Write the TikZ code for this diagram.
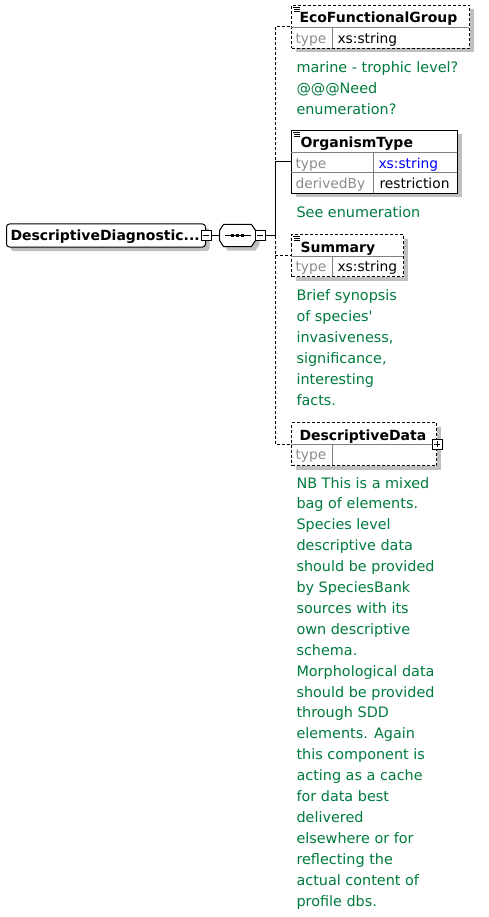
\documentclass[tikz,border=0pt]{standalone}
\usepackage{fontspec}
\setmainfont{DejaVu Sans}
\usetikzlibrary{shadows}
\definecolor{notegreen}{RGB}{0,122,61}
\newcommand\docmark[1]{\draw[line width=0.8pt, shift={(#1.north west)}] (2,2) -- (9,2) (3,4) -- (9,4) (3,6) -- (9,6);}
\begin{document}
\begin{tikzpicture}[x=1pt, y=-1pt, line width=1pt,
    shade/.style={drop shadow={shadow xshift=4pt, shadow yshift=-4pt, fill=black!25, opacity=1}},
    box/.style={draw, fill=white, shade, inner sep=0pt, anchor=north west},
    opt/.style={dash pattern=on 3pt off 2pt},
    grid/.style={draw=black!50},
    title/.style={anchor=base west, inner sep=0pt, font=\fontsize{14}{16}\selectfont\bfseries},
    key/.style={anchor=base west, inner sep=0pt, text=black!45, font=\fontsize{13.8}{16}\selectfont},
    val/.style={anchor=base west, inner sep=0pt, font=\fontsize{13.8}{16}\selectfont},
    note/.style={anchor=north west, inner sep=0pt, align=left, text=notegreen, font=\fontsize{14.4}{20.9}\selectfont},
    minus/.style={draw, fill=white, minimum size=10pt, inner sep=0pt,
      path picture={\draw ([xshift=2pt]path picture bounding box.west) -- ([xshift=-2pt]path picture bounding box.east);}},
    plus/.style={draw, fill=white, minimum size=10pt, inner sep=0pt,
      path picture={\draw ([xshift=2pt]path picture bounding box.west) -- ([xshift=-2pt]path picture bounding box.east)
        ([yshift=-2pt]path picture bounding box.north) -- ([yshift=2pt]path picture bounding box.south);}},
  ]
  \useasboundingbox (0,0) rectangle (488,917);

  \node[box, rounded corners=3pt, anchor=west, minimum width=199pt, minimum height=23pt] (root) at (6,235.5) {};
  \node[title] (roott) at (10,240.5) {DescriptiveDiagnostic...};
  \node[minus] (rootpm) at (root.east) {};

  \node[minimum width=35pt, minimum height=21pt, inner sep=0pt] (seq) at (237.5,235.5) {};
  \draw[fill=white, shade] ([xshift=4pt]seq.north west) -- ([xshift=-4pt]seq.north east) -- ([yshift=-6pt]seq.north east)
    -- ([yshift=6pt]seq.south east) -- ([xshift=-4pt]seq.south east) -- ([xshift=4pt]seq.south west)
    -- ([yshift=6pt]seq.south west) -- ([yshift=-6pt]seq.north west) -- cycle;
  \draw ([xshift=5pt]seq.west) -- ([xshift=-5pt]seq.east);
  \foreach \d in {-5,0,5}
    \fill ([xshift=\d pt]seq.center) +(-1.5,-1.5) rectangle +(1.5,1.5);
  \node[minus, anchor=west] (seqpm) at ([xshift=-1pt]seq.east) {};
  \coordinate (spine) at (275,235.5);

  \draw (rootpm.east) -- (seq.west);
  \draw (seqpm.east) -- (spine);

  \node[box, opt, minimum width=178pt, minimum height=43pt] (eco) at (291,5) {};
  \draw[grid] (291,28) -- (469,28) (332,28) -- (332,48);
  \node[title] (ecot) at (299,23) {EcoFunctionalGroup};
  \node[key] (ecok) at (295,43.5) {type};
  \node[val] (ecov) at (337,43.5) {xs:string};
  \docmark{eco}
  \node[note] (econ) at (296,61.1) {marine - trophic level?\\@@@Need\\enumeration?};

  \node[box, minimum width=166pt, minimum height=63pt] (org) at (291,130) {};
  \draw[grid] (291,153) -- (457,153) (291,173) -- (457,173) (373,153) -- (373,193);
  \node[title] (orgt) at (300,148) {OrganismType};
  \node[key] (orgk) at (295,168.5) {type};
  \node[val, text=blue] (orgv) at (378,168.5) {xs:string};
  \node[key] (orgdk) at (295,188.5) {derivedBy};
  \node[val] (orgdv) at (379,188.5) {restriction};
  \docmark{org}
  \node[note] (orgn) at (296,206) {See enumeration};

  \node[box, opt, minimum width=112pt, minimum height=42pt] (sum) at (291,234) {};
  \draw[grid] (291,256) -- (403,256) (332,256) -- (332,276);
  \node[title] (sumt) at (300,252) {Summary};
  \node[key] (sumk) at (295,271.5) {type};
  \node[val] (sumv) at (337,271.5) {xs:string};
  \docmark{sum}
  \node[note] (sumn) at (296,289.1) {Brief synopsis\\of species\textquotesingle\\invasiveness,\\significance,\\interesting\\facts.};

  \node[box, opt, minimum width=145pt, minimum height=43pt] (dd) at (291,422) {};
  \draw[grid] (291,444) -- (436,444) (332,444) -- (332,465);
  \node[title] (ddt) at (299,440) {DescriptiveData};
  \node[key] (ddk) at (295,459.5) {type};
  \node[plus] (ddpm) at (dd.east) {};
  \node[note] (ddn) at (296,476.6) {NB This is a mixed\\bag of elements.\\Species level\\descriptive data\\should be provided\\by SpeciesBank\\sources with its\\own descriptive\\schema.\\Morphological data\\should be provided\\through SDD\\elements. Again\\this component is\\acting as a cache\\for data best\\delivered\\elsewhere or for\\reflecting the\\actual content of\\profile dbs.};

  \draw[opt] (spine) |- (eco.west);
  \draw[opt] (spine) |- (sum.west);
  \draw[opt] (spine) |- (dd.west);
  \draw (spine) |- (org.west);
\end{tikzpicture}
\end{document}
